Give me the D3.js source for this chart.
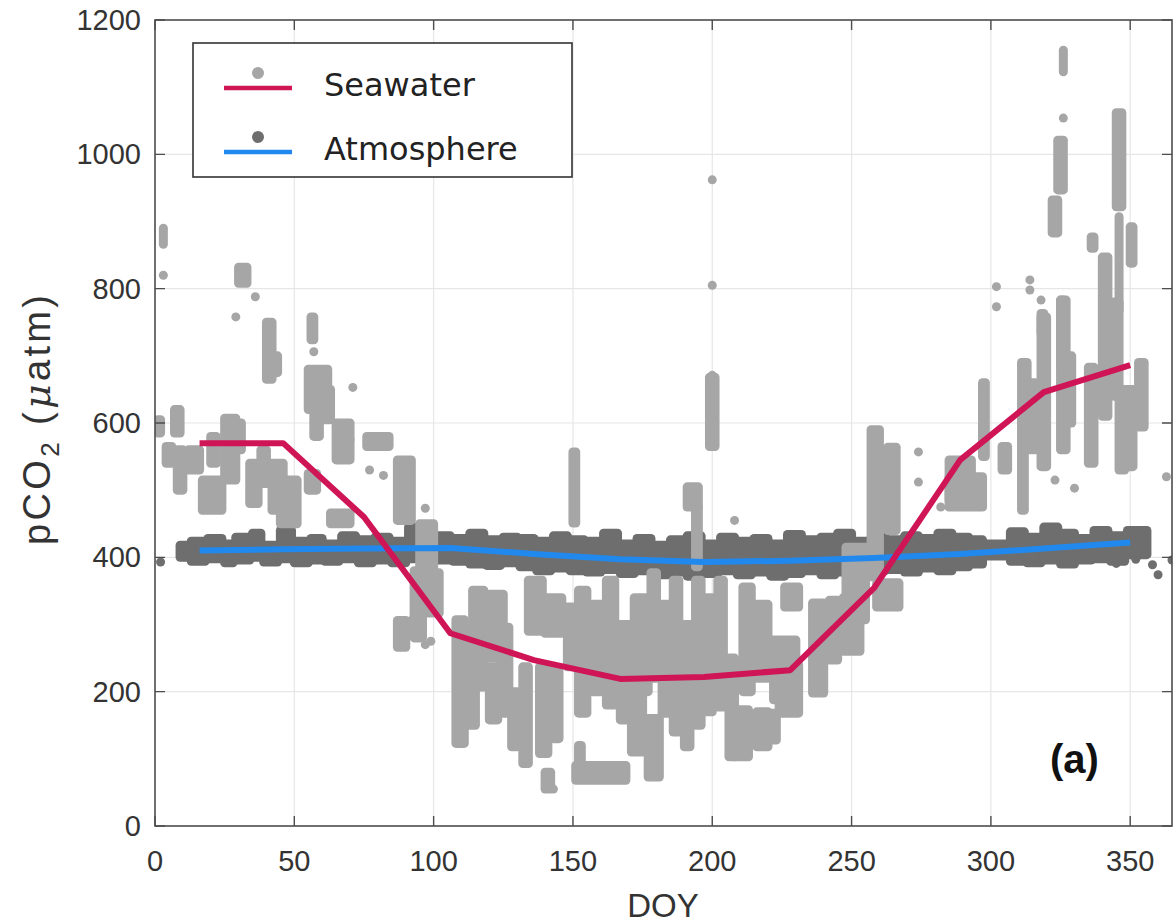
<!DOCTYPE html>
<html lang="en">
<meta charset="utf-8">
<style>
  body { margin: 0; background: #fff; }
  .tick-label { font-family: "Liberation Sans", Arial, sans-serif; font-size: 29px; fill: #333; }
  .grid line { stroke: #e6e6e6; stroke-width: 1.2px; }
</style>
<script src="https://d3js.org/d3.v7.min.js"></script>
<body>
<div id="chart"></div>
<script>
// monthly means (mid-month DOY)
const months = [16, 46, 75, 106, 136, 167, 197, 228, 258, 289, 319, 350]
const seaMean = [570, 570, 460, 287, 247, 219, 222, 232, 354, 545, 646, 686]
const atmMean = [410, 412, 413, 414, 405, 397, 393, 395, 399, 405, 413, 422]

// seawater observations, dense runs read as [doyStart, doyEnd, low, high]
const seaRuns = [
  [1, 2, 585, 605], [3, 3, 866, 890], [4, 6, 540, 565], [7, 9, 585, 620],
  [8, 10, 500, 560], [12, 16, 530, 560], [17, 24, 470, 515], [20, 22, 540, 580],
  [25, 29, 515, 607], [28, 31, 560, 600], [30, 33, 808, 832], [34, 37, 480, 540],
  [38, 40, 510, 560], [40, 42, 665, 750], [43, 44, 675, 700], [42, 46, 470, 540],
  [45, 51, 450, 515], [55, 58, 500, 525], [56, 57, 724, 758], [55, 62, 620, 680],
  [57, 59, 580, 670], [59, 63, 605, 650], [63, 70, 450, 466], [65, 70, 545, 600],
  [76, 84, 565, 580], [87, 92, 455, 545], [87, 90, 266, 306], [93, 96, 280, 380],
  [95, 100, 380, 450], [98, 102, 317, 377],
  [108, 111, 123, 307], [111, 115, 150, 290], [114, 118, 207, 351], [119, 125, 250, 345],
  [120, 123, 158, 237], [124, 127, 168, 296], [128, 130, 118, 200], [132, 134, 93, 237],
  [134, 139, 290, 366], [138, 141, 108, 237], [143, 145, 130, 230], [140, 146, 287, 340],
  [140, 142, 55, 80], [148, 150, 237, 326], [150, 151, 451, 557],
  [152, 155, 168, 351], [157, 160, 200, 330], [151, 169, 68, 90], [152, 153, 90, 120],
  [162, 165, 180, 366], [167, 170, 158, 300], [172, 177, 200, 340],
  [171, 175, 110, 198], [177, 181, 73, 160], [178, 180, 220, 377], [182, 185, 168, 330],
  [186, 188, 140, 366], [190, 192, 118, 300], [194, 196, 150, 366], [198, 200, 170, 340],
  [191, 195, 475, 505], [194, 195, 386, 475], [199, 201, 565, 668],
  [202, 204, 177, 366], [206, 208, 103, 250], [208, 213, 103, 173], [211, 214, 200, 356],
  [216, 220, 118, 170], [216, 220, 220, 330], [222, 230, 188, 277],
  [224, 231, 168, 240], [219, 223, 128, 168], [226, 231, 326, 356],
  [236, 240, 198, 332], [242, 245, 247, 336], [247, 253, 260, 340], [248, 255, 307, 415],
  [257, 260, 371, 590], [263, 266, 440, 564], [259, 267, 326, 362],
  [285, 293, 485, 545], [285, 297, 475, 520], [297, 298, 550, 660], [304, 306, 530, 565],
  [311, 312, 470, 690], [314, 316, 560, 660], [318, 320, 535, 758], [325, 327, 560, 783],
  [328, 329, 600, 700], [325, 326, 683, 783], [326, 326, 1123, 1155], [324, 326, 947, 1021],
  [322, 324, 883, 932], [312, 313, 634, 690], [318, 319, 734, 763], [335, 337, 540, 683],
  [340, 342, 610, 847], [344, 346, 640, 780], [345, 347, 922, 1062], [346, 346, 768, 907],
  [346, 348, 530, 650], [349, 351, 535, 650], [353, 355, 594, 690], [350, 351, 838, 892],
  [336, 337, 860, 877]
]
const seaDots = [
  [3, 820], [29, 758], [36, 788], [57, 706], [71, 653], [70, 575], [77, 530], [82, 522],
  [92, 306], [97, 270], [99, 275], [97, 473], [143, 55], [200, 805], [200, 962], [200, 671],
  [219, 131], [208, 455], [274, 557], [274, 512], [282, 475], [302, 803], [302, 773],
  [314, 813], [314, 798], [318, 783], [323, 515], [330, 503], [326, 1054], [363, 520], [297, 653]
]

// atmosphere observations, same form
const atmRuns = [
  [9, 12, 400, 418], [13, 18, 394, 424], [19, 24, 398, 428], [25, 28, 392, 420],
  [29, 34, 396, 430], [35, 38, 400, 436], [39, 44, 393, 418], [45, 49, 398, 440],
  [50, 55, 392, 424], [56, 60, 396, 428], [61, 66, 394, 420], [67, 72, 398, 432],
  [73, 78, 392, 426], [79, 84, 396, 430], [85, 90, 392, 424], [91, 95, 398, 445],
  [96, 100, 392, 428], [101, 106, 396, 432], [107, 112, 394, 428], [113, 118, 390, 436],
  [119, 124, 388, 426], [125, 130, 392, 430], [131, 136, 386, 428], [137, 142, 380, 424],
  [143, 148, 384, 432], [149, 154, 380, 426], [155, 160, 378, 424], [161, 166, 382, 436],
  [167, 172, 376, 420], [173, 178, 380, 428], [179, 184, 374, 418], [185, 190, 378, 426],
  [191, 196, 372, 432], [197, 202, 376, 420], [203, 208, 380, 430], [209, 214, 374, 424],
  [215, 220, 378, 428], [221, 226, 372, 420], [227, 232, 376, 434], [233, 238, 380, 426],
  [239, 244, 374, 430], [245, 250, 378, 436], [251, 256, 376, 424], [257, 262, 380, 430],
  [263, 268, 382, 426], [269, 274, 378, 432], [275, 280, 384, 428], [281, 286, 380, 436],
  [287, 292, 386, 430], [293, 297, 390, 426], [298, 306, 402, 420], [307, 312, 394, 438],
  [313, 318, 392, 430], [319, 324, 396, 445], [325, 330, 390, 436], [331, 336, 396, 428],
  [337, 342, 398, 440], [343, 348, 394, 432], [349, 356, 404, 440]
]
const atmDots = [[2, 393], [345, 391], [352, 397], [358, 389], [360, 374], [365, 396]]

const xTicks = [0, 50, 100, 150, 200, 250, 300, 350]
const yTicks = [0, 200, 400, 600, 800, 1000, 1200]

const W = 1173, H = 923
const PLOT = { LEFT: 155, RIGHT: 1172, TOP: 20, BOTTOM: 826 }
const R = 4.5

const svg = d3.select("#chart").append("svg")
  .attr("width", W)
  .attr("height", H)

const x = d3.scaleLinear().domain([0, 365]).range([PLOT.LEFT, PLOT.RIGHT])
const y = d3.scaleLinear().domain([0, 1200]).range([PLOT.BOTTOM, PLOT.TOP])

svg.append("clipPath").attr("id", "clip")
  .append("rect")
  .attr("x", PLOT.LEFT).attr("y", PLOT.TOP)
  .attr("width", PLOT.RIGHT - PLOT.LEFT).attr("height", PLOT.BOTTOM - PLOT.TOP)

// grid
const grid = svg.append("g").attr("class", "grid")
grid.selectAll(".gx").data(xTicks.slice(1)).join("line")
  .attr("x1", d => x(d)).attr("x2", d => x(d))
  .attr("y1", PLOT.TOP).attr("y2", PLOT.BOTTOM)
grid.selectAll(".gy").data(yTicks.slice(1, -1)).join("line")
  .attr("class", "gy")
  .attr("x1", PLOT.LEFT).attr("x2", PLOT.RIGHT)
  .attr("y1", d => y(d)).attr("y2", d => y(d))

const data = svg.append("g").attr("clip-path", "url(#clip)")

const runs = (g, rows, color) => g.selectAll(null).data(rows).join("rect")
  .attr("x", d => x(d[0]) - R)
  .attr("width", d => x(d[1]) - x(d[0]) + 2 * R)
  .attr("y", d => y(d[3]) - R)
  .attr("height", d => y(d[2]) - y(d[3]) + 2 * R)
  .attr("rx", R)
  .attr("fill", color)

const dots = (g, rows, color) => g.selectAll(null).data(rows).join("circle")
  .attr("cx", d => x(d[0]))
  .attr("cy", d => y(d[1]))
  .attr("r", R)
  .attr("fill", color)

runs(data.append("g"), atmRuns, "#6e6e6e")
dots(data.append("g"), atmDots, "#6e6e6e")
runs(data.append("g"), seaRuns, "#a6a6a6")
dots(data.append("g"), seaDots, "#a6a6a6")

const line = vals => d3.line()
  .x((d, i) => x(months[i]))
  .y(d => y(d))(vals)

data.append("path").attr("d", line(atmMean))
  .attr("fill", "none").attr("stroke", "#2189ee").attr("stroke-width", 6)
data.append("path").attr("d", line(seaMean))
  .attr("fill", "none").attr("stroke", "#cf1556").attr("stroke-width", 6)
  .attr("stroke-linejoin", "round")

// axes box with inward ticks
const axisColor = "#4d4d4d"
const box = svg.append("g")
box.append("rect")
  .attr("x", PLOT.LEFT).attr("y", PLOT.TOP)
  .attr("width", PLOT.RIGHT - PLOT.LEFT).attr("height", PLOT.BOTTOM - PLOT.TOP)
  .attr("fill", "none").attr("stroke", axisColor).attr("stroke-width", 1.6)

const tickLen = 10
box.selectAll(".xt").data(xTicks).join("path")
  .attr("d", d => `M${x(d)},${PLOT.BOTTOM}v${-tickLen}M${x(d)},${PLOT.TOP}v${tickLen}`)
  .attr("stroke", axisColor).attr("stroke-width", 1.4)
box.selectAll(".yt").data(yTicks).join("path")
  .attr("d", d => `M${PLOT.LEFT},${y(d)}h${tickLen}M${PLOT.RIGHT},${y(d)}h${-tickLen}`)
  .attr("stroke", axisColor).attr("stroke-width", 1.4)

svg.selectAll(".xl").data(xTicks).join("text")
  .attr("class", "tick-label")
  .attr("x", d => x(d)).attr("y", PLOT.BOTTOM + 45)
  .attr("text-anchor", "middle")
  .text(d => d)
svg.selectAll(".yl").data(yTicks).join("text")
  .attr("class", "tick-label")
  .attr("x", PLOT.LEFT - 14).attr("y", d => y(d) + 10)
  .attr("text-anchor", "end")
  .text(d => d)

// axis titles
svg.append("text")
  .attr("x", 663).attr("y", 917)
  .attr("text-anchor", "middle")
  .style("font-family", "Liberation Sans, Arial, sans-serif")
  .style("font-size", "33px").style("fill", "#333")
  .text("DOY")

const yTitle = svg.append("text")
  .attr("transform", "translate(50, 420) rotate(-90)")
  .attr("text-anchor", "middle")
  .attr("textLength", 250)
  .attr("lengthAdjust", "spacing")
  .style("font-family", "Liberation Sans, Arial, sans-serif")
  .style("font-size", "38px").style("fill", "#333")
yTitle.append("tspan").text("pCO")
yTitle.append("tspan").attr("dy", 9).style("font-size", "26px").text("2")
yTitle.append("tspan").attr("dy", -9).text(" (")
yTitle.append("tspan").style("font-style", "italic").style("font-family", "DejaVu Serif, serif").text("μ")
yTitle.append("tspan").text("atm)")

// panel tag
svg.append("text")
  .attr("x", 1050).attr("y", 773)
  .style("font-family", "Liberation Sans, Arial, sans-serif")
  .style("font-size", "40px").style("font-weight", "bold").style("fill", "#111")
  .text("(a)")

// legend
const legend = svg.append("g")
legend.append("rect")
  .attr("x", 193).attr("y", 43).attr("width", 379).attr("height", 134)
  .attr("fill", "#fff").attr("stroke", "#333").attr("stroke-width", 1.6)
const items = [
  { label: "Seawater", dot: "#a6a6a6", line: "#cf1556", top: 73 },
  { label: "Atmosphere", dot: "#6e6e6e", line: "#2189ee", top: 137 }
]
items.forEach(it => {
  legend.append("circle").attr("cx", 258).attr("cy", it.top).attr("r", 6).attr("fill", it.dot)
  legend.append("line")
    .attr("x1", 224).attr("x2", 292).attr("y1", it.top + 15).attr("y2", it.top + 15)
    .attr("stroke", it.line).attr("stroke-width", 4.5)
  legend.append("text")
    .attr("x", 324).attr("y", it.top + 23)
    .style("font-family", "DejaVu Sans, sans-serif")
    .style("font-size", "32px").style("fill", "#222")
    .text(it.label)
})
</script>
</body>
</html>
